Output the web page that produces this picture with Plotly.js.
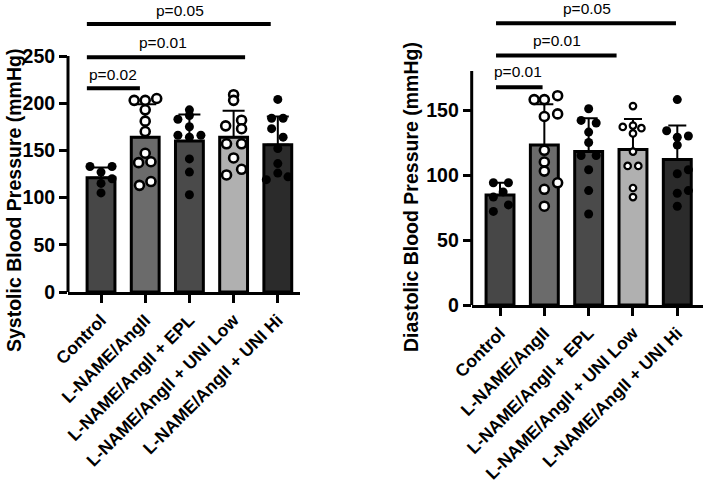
<!DOCTYPE html>
<html>
<head>
<meta charset="utf-8">
<script src="https://cdn.plot.ly/plotly-3.0.1.min.js"></script>
<style>
  html, body { margin: 0; padding: 0; background: #fff; }
  #chart { width: 709px; height: 483px; }
</style>
</head>
<body>
<div id="chart"></div>
<script>
// Treatment groups (x categories)
const groups = ['Control', 'L-NAME/AngII', 'L-NAME/AngII + EPL', 'L-NAME/AngII + UNI Low', 'L-NAME/AngII + UNI Hi'];

// Systolic blood pressure (mmHg): group mean and SD
const sbpMean = [121, 164, 160, 164, 156];
const sbpSD = [11, 35, 28, 28, 30];

// Systolic individual animals, per group
const sbpControl = [133, 133, 127, 120, 115, 105];
const sbpLname = [203, 203, 205, 193, 181, 170, 147, 137, 138, 113, 117];
const sbpEpl = [193, 187, 183, 175, 166, 164, 166, 141, 127, 103];
const sbpUniLow = [209, 203, 176, 182, 173, 157, 157, 142, 124, 130];
const sbpUniHi = [204, 184, 184, 173, 164, 152, 136, 126, 119, 122];

// Diastolic blood pressure (mmHg): group mean and SD
const dbpMean = [84.6, 123, 118, 119.7, 112];
const dbpSD = [9.4, 31.4, 25.6, 23.3, 26];

// Diastolic individual animals, per group
const dbpControl = [94, 94, 87, 83, 77, 72];
const dbpLname = [158, 158, 161, 145, 147, 119, 110, 103, 94, 89, 76];
const dbpEpl = [151, 142, 140, 133, 125, 115, 115, 104, 88, 70];
const dbpUniLow = [153, 137, 138, 136, 132, 118, 107, 107, 90, 83];
const dbpUniHi = [158, 134, 129, 130, 123, 104, 101, 88, 86, 76];

// y tick values
const sbpTicks = [0, 50, 100, 150, 200, 250];
const dbpTicks = [0, 50, 100, 150];

// Significance comparisons (label per bracket)
const sbpPvals = ['p=0.02', 'p=0.01', 'p=0.05'];
const dbpPvals = ['p=0.01', 'p=0.01', 'p=0.05'];

// ---- presentation ----
const FONT = 'Arial, "Liberation Sans", Helvetica, sans-serif';
const barFills = ['#474747', '#6b6b6b', '#4a4a4a', '#b0b0b0', '#2b2b2b'];
const idx = groups.map((_, i) => i);
const bold = s => '<b>' + s + '</b>';

// horizontal spread of the dots inside each bar (category units)
const sbpSpread = [
  [-0.25, 0.25, 0, 0.25, 0, 0],
  [-0.25, 0, 0.26, 0, 0, 0, 0, -0.15, 0.13, -0.13, 0.13],
  [0, 0, -0.26, 0, -0.26, 0, 0.26, 0, 0, 0],
  [0, 0, -0.18, 0.18, 0.18, -0.16, 0.18, 0, -0.16, 0.18],
  [0, -0.14, 0.12, -0.14, 0.12, 0, 0, 0, -0.26, 0.23]
];
const dbpSpread = [
  [-0.15, 0.19, 0.07, -0.15, 0.19, -0.15],
  [-0.23, 0, 0.3, 0, 0.3, 0, 0, 0, 0.3, 0, 0],
  [0, -0.17, 0.17, 0, 0, -0.17, 0.17, 0, 0, 0],
  [0, -0.23, 0, 0.19, 0, 0, -0.12, 0.12, 0, 0],
  [0, -0.24, 0, 0.25, 0, 0.25, 0, 0.25, 0, 0]
];

const filled = {symbol: 'circle', size: 9, color: '#000', line: {width: 0}};
const openBig = {symbol: 'circle', size: 9, color: '#fff', line: {width: 2.6, color: '#000'}};
const openSmall = {symbol: 'circle', size: 6.5, color: '#fff', line: {width: 2.2, color: '#000'}};

function barTrace(means, sds, xa, ya, cap) {
  return {
    type: 'bar', x: idx, y: means, width: 0.63, xaxis: xa, yaxis: ya,
    marker: {color: barFills, line: {color: '#000', width: 3}},
    error_y: {type: 'data', symmetric: false, array: sds, arrayminus: sds.map(() => 0),
              color: '#000', thickness: 2, width: cap},
    hoverinfo: 'skip', showlegend: false
  };
}

function dotTrace(vals, gi, spread, marker, xa, ya) {
  return {
    type: 'scatter', mode: 'markers', xaxis: xa, yaxis: ya,
    x: vals.map((_, k) => gi + spread[gi][k]), y: vals,
    marker: marker, cliponaxis: false, hoverinfo: 'skip', showlegend: false
  };
}

const sbpSets = [sbpControl, sbpLname, sbpEpl, sbpUniLow, sbpUniHi];
const dbpSets = [dbpControl, dbpLname, dbpEpl, dbpUniLow, dbpUniHi];
const sbpMarkers = [filled, openBig, filled, openBig, filled];
const dbpMarkers = [filled, openBig, filled, openSmall, filled];

const data = [barTrace(sbpMean, sbpSD, 'x', 'y', 11), barTrace(dbpMean, dbpSD, 'x2', 'y2', 9)];
sbpSets.forEach((v, i) => data.push(dotTrace(v, i, sbpSpread, sbpMarkers[i], 'x', 'y')));
dbpSets.forEach((v, i) => data.push(dotTrace(v, i, dbpSpread, dbpMarkers[i], 'x2', 'y2')));

const W = 709, H = 483;

function xAxis(domain, range) {
  return {
    domain: domain, range: range, tickmode: 'array', tickvals: idx, ticktext: groups.map(bold),
    tickangle: -45, ticks: 'outside', ticklen: 8, tickwidth: 3, tickcolor: '#000',
    showline: true, linewidth: 3, linecolor: '#000', showgrid: false, zeroline: false,
    tickfont: {family: FONT, size: 17.5, color: '#000'}, fixedrange: true
  };
}
function yAxis(domain, range, tv) {
  return {
    domain: domain, range: range, tickmode: 'array', tickvals: tv, ticktext: tv.map(v => bold(String(v))),
    ticks: 'outside', ticklen: 8, tickwidth: 3, tickcolor: '#000',
    showline: false, showgrid: false, zeroline: false,
    tickfont: {family: FONT, size: 19.5, color: '#000'}, fixedrange: true
  };
}

const shapes = [];
const annotations = [];

// y-axis spines stop at the top tick, leaving room for brackets above
function spine(xPaper, yref, top) {
  shapes.push({type: 'line', xref: 'paper', yref: yref, x0: xPaper, x1: xPaper, y0: 0, y1: top,
               line: {color: '#000', width: 3}});
}
spine(68 / W, 'y', sbpTicks[sbpTicks.length - 1]);
spine(471.7 / W, 'y2', 180);

// comparison brackets
function bracket(xref, yref, x0, x1, y, label, tx, ty) {
  shapes.push({type: 'line', xref: xref, yref: yref, x0: x0, x1: x1, y0: y, y1: y,
               line: {color: '#000', width: 4}});
  annotations.push({xref: xref, yref: yref, x: tx, y: ty, text: label, showarrow: false,
                    font: {family: FONT, size: 15.5, color: '#000'}});
}
bracket('x', 'y', -0.32, 0.88, 215.8, sbpPvals[0], 0.27, 230);
bracket('x', 'y', -0.32, 3.26, 248.6, sbpPvals[1], 1.4, 264);
bracket('x', 'y', -0.32, 3.84, 284, sbpPvals[2], 1.79, 298.5);
bracket('x2', 'y2', -0.09, 0.96, 167.5, dbpPvals[0], 0.41, 179.5);
bracket('x2', 'y2', -0.09, 2.63, 192, dbpPvals[1], 1.28, 203.3);
bracket('x2', 'y2', -0.09, 3.97, 216.7, dbpPvals[2], 1.96, 228.2);

// axis titles
const titleFont = {family: FONT, size: 19.5, color: '#000'};
annotations.push({xref: 'paper', yref: 'paper', x: 14 / W, y: (H - 201) / H, textangle: -90,
                  text: bold('Systolic Blood Pressure (mmHg)'), showarrow: false, font: titleFont,
                  xanchor: 'center', yanchor: 'middle'});
annotations.push({xref: 'paper', yref: 'paper', x: 411 / W, y: (H - 197) / H, textangle: -90,
                  text: bold('Diastolic Blood Pressure (mmHg)'), showarrow: false, font: titleFont,
                  xanchor: 'center', yanchor: 'middle'});

const layout = {
  width: W, height: H,
  margin: {l: 0, r: 0, t: 0, b: 0},
  paper_bgcolor: '#fff', plot_bgcolor: 'rgba(0,0,0,0)',
  font: {family: FONT, color: '#000'},
  showlegend: false,
  xaxis: xAxis([68 / W, 300 / W], [-0.747, 4.502]),
  yaxis: yAxis([(H - 292) / H, 1], [0, 292 / 0.944], sbpTicks),
  xaxis2: xAxis([471.7 / W, 703 / W], [-0.639, 4.58]),
  yaxis2: yAxis([(H - 305) / H, 1], [0, 305 / 1.3], dbpTicks),
  shapes: shapes,
  annotations: annotations
};
layout.yaxis2.anchor = 'x2';
layout.xaxis2.anchor = 'y2';

Plotly.newPlot('chart', data, layout, {staticPlot: true, displayModeBar: false});
</script>
</body>
</html>
